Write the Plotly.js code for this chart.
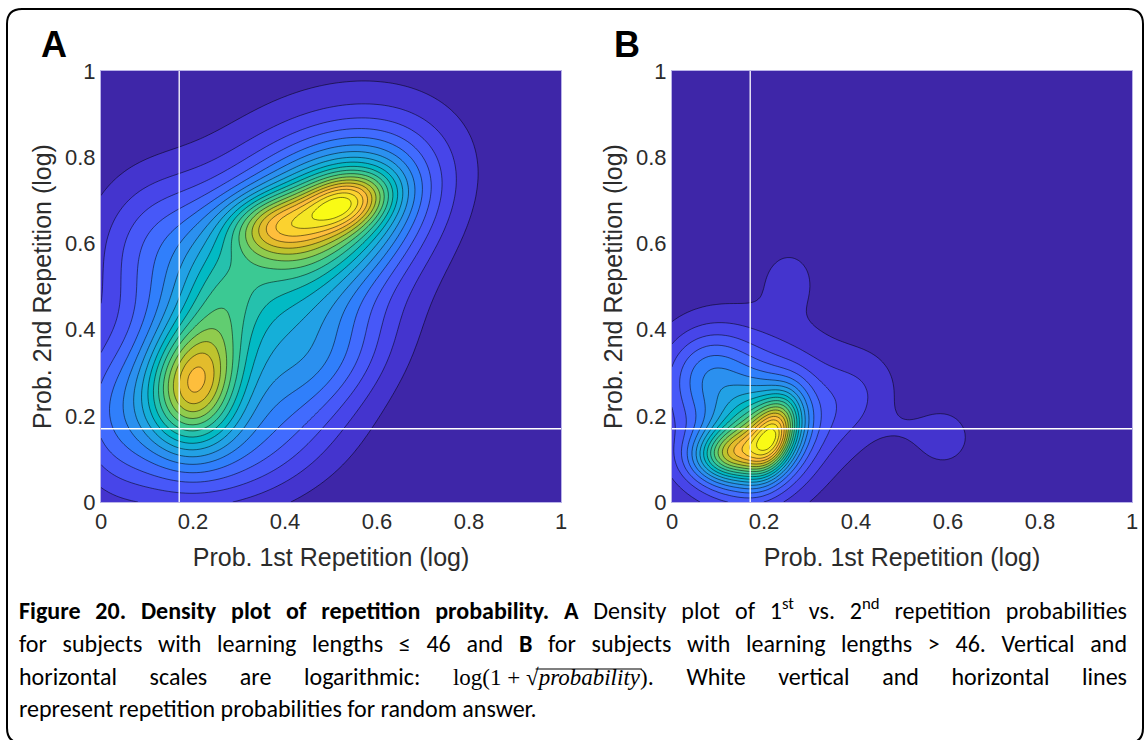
<!DOCTYPE html>
<html>
<head>
<meta charset="utf-8">
<script src="https://cdn.plot.ly/plotly-3.0.1.min.js"></script>
<style>
  html, body { margin: 0; padding: 0; background: #ffffff; }
  #chart { width: 1145px; height: 740px; }
</style>
</head>
<body>
<div id="chart"></div>
<script>
// ---------- data ----------
// Axis ticks (log(1 + sqrt(p)) scale), shared by both panels
const tickVals = [0, 0.2, 0.4, 0.6, 0.8, 1];
const tickText = ['0', '0.2', '0.4', '0.6', '0.8', '1'];

// Repetition probability of a random answer on the same scale
const randomRep1st = 0.17;
const randomRep2nd = 0.17;

// Panel A (learning lengths <= 46): kernel components of the density
const aCenterX = [0.53, 0.52, 0.37, 0.20, 0.36, 0.48, 0.26, 0.03, 0.30, 0.12];
const aCenterY = [0.695, 0.68, 0.645, 0.27, 0.50, 0.32, 0.47, 0.20, 0.12, 0.60];
const aSpreadX = [0.065, 0.13, 0.07, 0.07, 0.19, 0.10, 0.06, 0.08, 0.15, 0.10];
const aSpreadY = [0.045, 0.115, 0.05, 0.10, 0.22, 0.09, 0.10, 0.12, 0.10, 0.12];
const aCorr    = [0.30, 0.35, 0.10, 0.10, 0.40, 0.30, 0.0, 0.0, 0.30, 0.0];
const aWeight  = [0.24, 0.31, 0.20, 0.41, 0.30, 0.09, 0.09, 0.12, 0.11, 0.09];

// Panel B (learning lengths > 46): kernel components of the density
const bCenterX = [0.222, 0.12, 0.19, 0.15, 0.08, 0.255, 0.59, 0.40, 0.50];
const bCenterY = [0.155, 0.11, 0.15, 0.20, 0.30, 0.52, 0.15, 0.24, 0.165];
const bSpreadX = [0.035, 0.055, 0.07, 0.14, 0.065, 0.04, 0.048, 0.07, 0.04];
const bSpreadY = [0.06, 0.04, 0.08, 0.15, 0.07, 0.05, 0.052, 0.08, 0.03];
const bCorr    = [0.40, 0.10, 0.20, 0.10, 0.0, 0.0, 0.0, 0.20, 0.0];
const bWeight  = [0.35, 0.30, 0.40, 0.18, 0.15, 0.06, 0.075, 0.07, 0.02];

// Contour levels as a fraction of the peak density
const levelStart = 0.05, levelEnd = 0.95, levelStep = 0.05;

// ---------- density grids ----------
const N = 121;
const grid = [];
for (let i = 0; i < N; i++) grid.push(i / (N - 1));

function densityGrid(cx, cy, sx, sy, rho, w) {
  const z = [];
  let zmax = 0;
  for (let j = 0; j < N; j++) {
    const row = [];
    for (let i = 0; i < N; i++) {
      let v = 0;
      for (let k = 0; k < cx.length; k++) {
        const dx = (grid[i] - cx[k]) / sx[k];
        const dy = (grid[j] - cy[k]) / sy[k];
        const q = (dx * dx - 2 * rho[k] * dx * dy + dy * dy) / (1 - rho[k] * rho[k]);
        v += w[k] * Math.exp(-q / 2);
      }
      row.push(v);
      if (v > zmax) zmax = v;
    }
    z.push(row);
  }
  return z.map(r => r.map(v => v / zmax));
}
const zA = densityGrid(aCenterX, aCenterY, aSpreadX, aSpreadY, aCorr, aWeight);
const zB = densityGrid(bCenterX, bCenterY, bSpreadX, bSpreadY, bCorr, bWeight);

// ---------- styles ----------
const parulaRGB = [
[0.2422,0.1504,0.6603],[0.2504,0.1650,0.7076],[0.2578,0.1818,0.7511],[0.2647,0.1978,0.7952],
[0.2706,0.2147,0.8364],[0.2751,0.2342,0.8710],[0.2783,0.2559,0.8991],[0.2803,0.2782,0.9221],
[0.2813,0.3006,0.9414],[0.2810,0.3228,0.9579],[0.2795,0.3447,0.9717],[0.2760,0.3667,0.9829],
[0.2699,0.3892,0.9906],[0.2602,0.4123,0.9952],[0.2440,0.4358,0.9988],[0.2206,0.4603,0.9973],
[0.1963,0.4847,0.9892],[0.1834,0.5074,0.9798],[0.1786,0.5289,0.9682],[0.1764,0.5499,0.9520],
[0.1687,0.5703,0.9359],[0.1540,0.5902,0.9218],[0.1460,0.6091,0.9079],[0.1380,0.6276,0.8973],
[0.1248,0.6459,0.8883],[0.1113,0.6635,0.8763],[0.0952,0.6798,0.8598],[0.0689,0.6948,0.8394],
[0.0297,0.7082,0.8163],[0.0036,0.7203,0.7917],[0.0067,0.7312,0.7660],[0.0433,0.7411,0.7394],
[0.0964,0.7500,0.7120],[0.1408,0.7584,0.6842],[0.1717,0.7670,0.6554],[0.1938,0.7758,0.6251],
[0.2161,0.7843,0.5923],[0.2470,0.7918,0.5567],[0.2906,0.7973,0.5188],[0.3406,0.8008,0.4789],
[0.3909,0.8029,0.4354],[0.4456,0.8024,0.3909],[0.5044,0.7993,0.3480],[0.5616,0.7942,0.3045],
[0.6174,0.7876,0.2612],[0.6720,0.7793,0.2227],[0.7242,0.7698,0.1910],[0.7738,0.7598,0.1646],
[0.8203,0.7498,0.1535],[0.8634,0.7406,0.1596],[0.9035,0.7330,0.1774],[0.9393,0.7288,0.2100],
[0.9728,0.7298,0.2394],[0.9956,0.7434,0.2371],[0.9970,0.7659,0.2199],[0.9952,0.7893,0.2028],
[0.9892,0.8136,0.1885],[0.9786,0.8386,0.1766],[0.9676,0.8639,0.1643],[0.9610,0.8890,0.1537],
[0.9597,0.9135,0.1423],[0.9628,0.9373,0.1265],[0.9691,0.9606,0.1064],[0.9769,0.9839,0.0805]];
const parula = parulaRGB.map((c, i) => [i / (parulaRGB.length - 1),
  'rgb(' + c.map(v => Math.round(v * 255)).join(',') + ')']);

const W = 1145, H = 740;
const px = v => v / W;          // pixel -> paper x
const py = v => 1 - v / H;      // pixel -> paper y

const sansFont = 'Liberation Sans, Arial, Helvetica, sans-serif';
const tickFont = { family: sansFont, size: 22, color: '#2b2b2b' };
const titleFont = { family: sansFont, size: 25, color: '#2b2b2b' };
const captionFont = { family: 'Carlito, Calibri, Lato, sans-serif', size: 24, color: '#000000' };

function contourTrace(z, xa, ya) {
  return {
    type: 'contour', x: grid, y: grid, z: z, xaxis: xa, yaxis: ya,
    zmin: 0, zmax: 1, zauto: false, autocontour: false,
    contours: { start: levelStart, end: levelEnd, size: levelStep, coloring: 'fill', showlines: true },
    line: { color: 'rgba(0,0,0,0.85)', width: 0.6, smoothing: 1 },
    colorscale: parula, showscale: false, hoverinfo: 'skip'
  };
}

function axis(domain, anchor, title, standoff) {
  return {
    domain: domain, anchor: anchor, range: [0, 1], fixedrange: true,
    tickmode: 'array', tickvals: tickVals, ticktext: tickText,
    ticks: '', showgrid: false, zeroline: false,
    showline: true, mirror: true, linecolor: '#b9b3e8', linewidth: 1,
    tickfont: tickFont,
    title: { text: title, font: titleFont, standoff: standoff }
  };
}

const xDomA = [px(101), px(561)], xDomB = [px(672), px(1132)];
const yDom = [py(502), py(71)];

const layout = {
  width: W, height: H,
  margin: { l: 0, r: 0, t: 0, b: 0 },
  paper_bgcolor: '#ffffff', plot_bgcolor: '#ffffff',
  showlegend: false,
  xaxis:  axis(xDomA, 'y',  'Prob. 1st Repetition (log)', 15),
  yaxis:  axis(yDom,  'x',  'Prob. 2nd Repetition (log)', 6),
  xaxis2: axis(xDomB, 'y2', 'Prob. 1st Repetition (log)', 15),
  yaxis2: axis(yDom,  'x2', 'Prob. 2nd Repetition (log)', 6),
  shapes: [
    { type: 'line', xref: 'x',  yref: 'y domain',  x0: randomRep1st, x1: randomRep1st, y0: 0, y1: 1, line: { color: '#ffffff', width: 1.3 } },
    { type: 'line', xref: 'x domain', yref: 'y',   x0: 0, x1: 1, y0: randomRep2nd, y1: randomRep2nd, line: { color: '#ffffff', width: 1.3 } },
    { type: 'line', xref: 'x2', yref: 'y2 domain', x0: randomRep1st, x1: randomRep1st, y0: 0, y1: 1, line: { color: '#ffffff', width: 1.3 } },
    { type: 'line', xref: 'x2 domain', yref: 'y2', x0: 0, x1: 1, y0: randomRep2nd, y1: randomRep2nd, line: { color: '#ffffff', width: 1.3 } },
    // rounded frame around the figure and its caption
    { type: 'path', xref: 'paper', yref: 'paper', line: { color: '#000000', width: 2 },
      path: 'M ' + px(22) + ',' + py(9) + ' L ' + px(1128) + ',' + py(9) +
            ' Q ' + px(1143) + ',' + py(9) + ' ' + px(1143) + ',' + py(24) +
            ' L ' + px(1143) + ',' + py(728) + ' Q ' + px(1143) + ',' + py(743) + ' ' + px(1128) + ',' + py(743) +
            ' L ' + px(22) + ',' + py(743) + ' Q ' + px(7) + ',' + py(743) + ' ' + px(7) + ',' + py(728) +
            ' L ' + px(7) + ',' + py(24) + ' Q ' + px(7) + ',' + py(9) + ' ' + px(22) + ',' + py(9) + ' Z' }
  ],
  annotations: [
    { text: '<b>A</b>', xref: 'paper', yref: 'paper', x: px(54), y: py(44), xanchor: 'center', yanchor: 'middle', showarrow: false, font: { family: sansFont, size: 36, color: '#000' } },
    { text: '<b>B</b>', xref: 'paper', yref: 'paper', x: px(627), y: py(44), xanchor: 'center', yanchor: 'middle', showarrow: false, font: { family: sansFont, size: 36, color: '#000' } },
    { text: '<b>Figure 20. Density plot of repetition probability. A</b> Density plot of 1<sup>st</sup> vs. 2<sup>nd</sup> repetition probabilities',
      xref: 'paper', yref: 'paper', x: px(17), y: py(609), xanchor: 'left', yanchor: 'middle', align: 'left', showarrow: false, font: captionFont },
    { text: 'for subjects with learning lengths ≤ 46 and <b>B</b> for subjects with learning lengths > 46. Vertical and',
      xref: 'paper', yref: 'paper', x: px(17), y: py(643), xanchor: 'left', yanchor: 'middle', align: 'left', showarrow: false, font: captionFont },
    { text: 'horizontal scales are logarithmic: <span style="font-family:\'Liberation Serif\',serif;font-size:23px">log(1\u2005+\u2005√<i>probability</i>)</span>. White vertical and horizontal lines',
      xref: 'paper', yref: 'paper', x: px(17), y: py(676), xanchor: 'left', yanchor: 'middle', align: 'left', showarrow: false, font: captionFont },
    { text: 'represent repetition probabilities for random answer.',
      xref: 'paper', yref: 'paper', x: px(17), y: py(708), xanchor: 'left', yanchor: 'middle', align: 'left', showarrow: false, font: captionFont }
  ]
};

const gd = document.getElementById('chart');

// Justify the first three caption lines to the right text edge
function justifyCaption() {
  const box = gd.getBoundingClientRect();
  const rightEdge = box.left + 1127;
  [2, 3, 4].forEach(idx => {
    const t = gd.querySelector('.annotation[data-index="' + idx + '"] text.annotation-text');
    if (!t) return;
    t.style.wordSpacing = '0px';
    const spaces = (t.textContent.match(/ /g) || []).length;
    const r = t.getBoundingClientRect();
    if (spaces > 0) t.style.wordSpacing = ((rightEdge - r.right) / spaces) + 'px';
  });
}

// Radical bar over the italic argument of the square root
function radicalBar() {
  const box = gd.getBoundingClientRect();
  const t = gd.querySelector('.annotation[data-index="4"] text.annotation-text');
  if (!t) return null;
  const it = Array.from(t.querySelectorAll('tspan')).find(s => /italic/.test(s.getAttribute('style') || ''));
  if (!it) return null;
  const r = it.getBoundingClientRect();
  const yTop = r.top - box.top + 4;
  return { type: 'line', xref: 'paper', yref: 'paper',
    x0: (r.left - box.left - 1) / W, x1: (r.right - box.left + 1) / W,
    y0: 1 - yTop / H, y1: 1 - yTop / H, line: { color: '#000000', width: 1.2 } };
}

Plotly.newPlot(gd, [contourTrace(zA, 'x', 'y'), contourTrace(zB, 'x2', 'y2')], layout,
  { staticPlot: true, displayModeBar: false }).then(() => {
  justifyCaption();
  const bar = radicalBar();
  if (!bar) return;
  return Plotly.relayout(gd, { ['shapes[' + layout.shapes.length + ']']: bar }).then(justifyCaption);
});
</script>
</body>
</html>
